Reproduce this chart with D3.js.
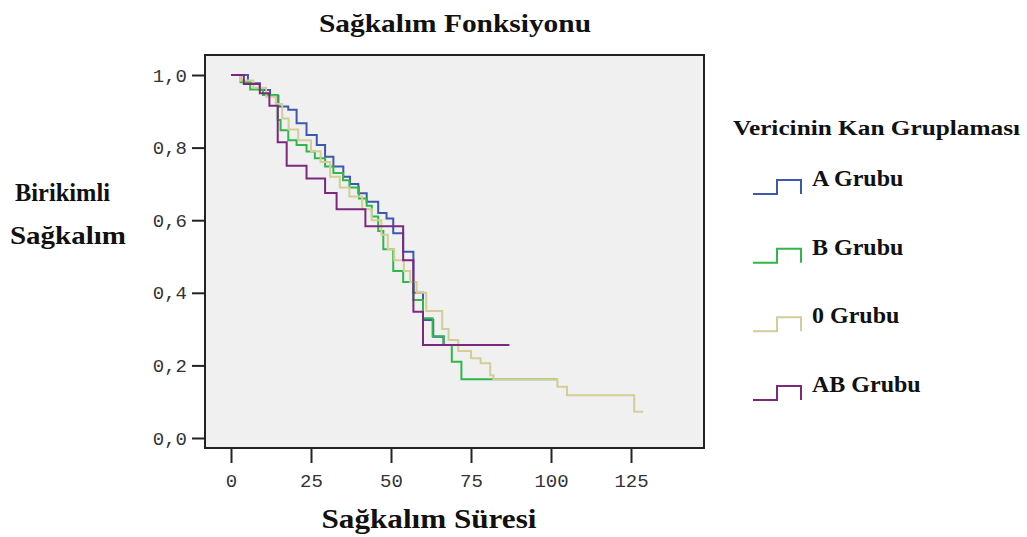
<!DOCTYPE html>
<html>
<head>
<meta charset="utf-8">
<script src="https://cdn.jsdelivr.net/npm/d3@7"></script>
<style>
  body { margin: 0; background: #fff; }
  .tick text { font-family: "Liberation Mono", "DejaVu Sans Mono", monospace; font-size: 19px; fill: #333; }
  .lbl { font-family: "Liberation Serif", "DejaVu Serif", serif; font-weight: bold; fill: #111; }
</style>
</head>
<body>
<div id="chart"></div>
<script>
// group names + SPSS default colours
var groups = ["A Grubu", "B Grubu", "0 Grubu", "AB Grubu"];
var colors = ["#3e58ac", "#2eb848", "#d3ce97", "#7c287d"];

// Kaplan-Meier steps (time, cumulative survival)
var timeA = [0, 5.3, 9, 12.2, 14.8, 17.9, 20.5, 23.6, 26.8, 29.4, 32, 35.1, 37.2, 39.8, 42.4, 46, 48.6, 50.7, 53.8, 57, 60, 63.2, 66.4, 68];
var survA = [1, .977, .959, .942, .913, .904, .867, .835, .807, .775, .748, .72, .70, .674, .651, .62, .605, .564, .513, .40, .325, .279, .256, .256];

var timeB = [0, 3, 6, 10, 14.6, 15.5, 17.9, 20.5, 23.6, 26.2, 29.4, 32, 35, 37, 40, 42.4, 44, 46, 47.6, 50.7, 53.8, 57, 60, 63, 66.5, 69, 72, 102];
var survB = [1, .98, .96, .945, .876, .848, .82, .807, .789, .771, .748, .73, .71, .69, .66, .64, .61, .57, .52, .46, .43, .38, .33, .28, .256, .21, .162, .162];

var timeO = [0, 3, 7, 11, 14, 16, 18, 21, 25, 28, 31, 34, 37, 41, 44, 47, 49, 51, 54, 56, 58, 61, 66, 68, 71, 75, 78, 81, 82, 102, 105, 126, 128.8];
var survO = [1, .985, .965, .94, .92, .88, .85, .82, .79, .76, .72, .69, .665, .63, .60, .56, .52, .49, .46, .43, .40, .35, .30, .27, .24, .22, .206, .173, .162, .141, .118, .072, .072];

var timeAB = [0, 4, 9, 12, 14.6, 17.4, 23.6, 29.4, 33, 42, 53.8, 57, 60, 87];
var survAB = [1, .975, .95, .915, .815, .75, .715, .675, .63, .583, .49, .348, .256, .256];

var xTicks = [0, 25, 50, 75, 100, 125];
var yTicks = [0, 0.2, 0.4, 0.6, 0.8, 1.0];

var series = [
  {name: groups[0], t: timeA, s: survA},
  {name: groups[1], t: timeB, s: survB},
  {name: groups[2], t: timeO, s: survO},
  {name: groups[3], t: timeAB, s: survAB}
];

var width = 1027, height = 537,
    box = {left: 205, right: 704, top: 55, bottom: 448},
    svg = d3.select("#chart").append("svg")
      .attr("width", width)
      .attr("height", height),
    x = d3.scaleLinear().domain([0, 125]).range([231, 631]),
    y = d3.scaleLinear().domain([0, 1]).range([438, 75]),
    color = d3.scaleOrdinal().domain(groups).range(colors);

// plot background
svg.append("rect")
  .attr("x", box.left).attr("y", box.top)
  .attr("width", box.right - box.left).attr("height", box.bottom - box.top)
  .attr("fill", "#f0f0f0");

var xAxis = svg.append("g")
  .attr("transform", "translate(0," + box.bottom + ")")
  .call(d3.axisBottom(x).tickValues(xTicks).tickSize(15).tickPadding(11).tickFormat(d3.format("d")));
var yAxis = svg.append("g")
  .attr("transform", "translate(" + box.left + ",0)")
  .call(d3.axisLeft(y).tickValues(yTicks).tickSize(13).tickPadding(5)
    .tickFormat(function (d) { return d3.format(".1f")(d).replace(".", ","); }));
svg.selectAll(".domain").remove();
svg.selectAll(".tick line").attr("stroke", "#222").attr("stroke-width", 2);

var line = d3.line()
  .curve(d3.curveStepAfter)
  .x(function (d) { return x(d[0]); })
  .y(function (d) { return y(d[1]); });

svg.selectAll("path.km")
  .data(series)
  .enter().append("path")
  .attr("class", "km")
  .attr("fill", "none")
  .attr("stroke", function (d) { return color(d.name); })
  .attr("stroke-width", 2)
  .attr("d", function (d) { return line(d3.zip(d.t, d.s)); });

// frame on top
svg.append("rect")
  .attr("x", box.left).attr("y", box.top)
  .attr("width", box.right - box.left).attr("height", box.bottom - box.top)
  .attr("fill", "none").attr("stroke", "#222").attr("stroke-width", 2);

// titles
svg.append("text").attr("class", "lbl")
  .attr("x", 455).attr("y", 32).attr("text-anchor", "middle")
  .attr("font-size", 26).attr("textLength", 272).attr("lengthAdjust", "spacingAndGlyphs")
  .text("Sağkalım Fonksiyonu");
svg.append("text").attr("class", "lbl")
  .attr("x", 429).attr("y", 528).attr("text-anchor", "middle")
  .attr("font-size", 27).attr("textLength", 215).attr("lengthAdjust", "spacingAndGlyphs")
  .text("Sağkalım Süresi");
svg.append("text").attr("class", "lbl")
  .attr("x", 15).attr("y", 201)
  .attr("font-size", 26).attr("textLength", 95).attr("lengthAdjust", "spacingAndGlyphs")
  .text("Birikimli");
svg.append("text").attr("class", "lbl")
  .attr("x", 10).attr("y", 244)
  .attr("font-size", 26).attr("textLength", 116).attr("lengthAdjust", "spacingAndGlyphs")
  .text("Sağkalım");

// legend
svg.append("text").attr("class", "lbl")
  .attr("x", 733).attr("y", 135)
  .attr("font-size", 20).attr("textLength", 287).attr("lengthAdjust", "spacingAndGlyphs")
  .text("Vericinin Kan Gruplaması");

var legY = d3.scalePoint().domain(groups).range([186, 392]);
var leg = svg.selectAll("g.leg")
  .data(groups)
  .enter().append("g")
  .attr("class", "leg")
  .attr("transform", function (d) { return "translate(753," + legY(d) + ")"; });
leg.append("path")
  .attr("fill", "none")
  .attr("stroke", function (d) { return color(d); })
  .attr("stroke-width", 2)
  .attr("d", "M0,8H24V-6H48V8");
leg.append("text").attr("class", "lbl")
  .attr("x", 59).attr("y", 0)
  .attr("font-size", 24)
  .text(function (d) { return d; });
</script>
</body>
</html>
